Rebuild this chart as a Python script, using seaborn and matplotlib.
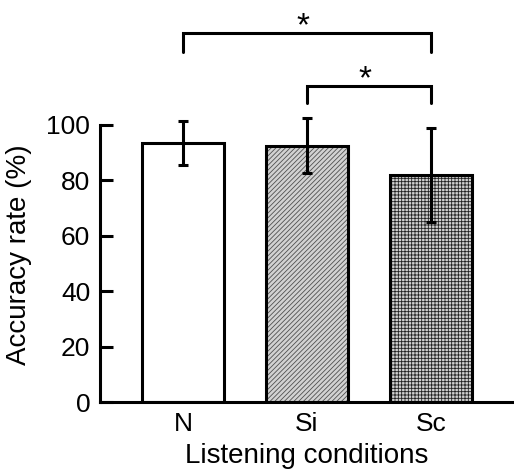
import matplotlib
matplotlib.use("Agg")
import matplotlib.pyplot as plt
import seaborn as sns
import pandas as pd

conditions = ["N", "Si", "Sc"]
accuracy = [93.5, 92.5, 82.0]
errors = [8.0, 10.0, 17.0]
# significance pairs (index a, index b, bracket top, leg bottom)
sig_pairs = [(0, 2, 133.2, 126.4), (1, 2, 114.1, 108.0)]
yticks = [0, 20, 40, 60, 80, 100]

sns.set_theme(style="ticks")
plt.rcParams['font.family'] = ['Liberation Sans', 'DejaVu Sans']
plt.rcParams['hatch.linewidth'] = 0.6
for k in ["text.color", "axes.labelcolor", "xtick.color", "ytick.color", "axes.edgecolor"]:
    plt.rcParams[k] = "black"

df = pd.DataFrame({"cond": conditions, "acc": accuracy})

fig = plt.figure(figsize=(5.14, 4.71), dpi=100)
ax = fig.add_axes([100/514, 69/471, 414/514, 402/471])

sns.barplot(data=df, x="cond", y="acc", order=conditions, errorbar=None,
            width=0.66, ax=ax, color="white", saturation=1)

faces = ["white", "#d2d2d2", "#d0d0d0"]
hatches = [None, "///////", "+++++"]
hcolors = ["black", "#505050", "#222222"]
for patch, fc, h, hc in zip(ax.patches, faces, hatches, hcolors):
    patch.set_facecolor(fc)
    patch.set_edgecolor("black")
    patch.set_linewidth(2.2)
    if h:
        patch.set_hatch(h)
        patch._hatch_color = matplotlib.colors.to_rgba(hc)

ax.errorbar(range(len(conditions)), accuracy, yerr=errors, fmt="none",
            ecolor="black", elinewidth=2.2, capsize=3.5, capthick=2.2, zorder=5)

for a, b, top, leg in sig_pairs:
    ax.plot([a, a, b, b], [leg, top, top, leg], color="black", lw=2.2,
            clip_on=False, solid_joinstyle="miter")
    ax.text((a + b) / 2 - 0.03, top - 3.5, "*", ha="center", va="bottom",
            fontsize=24, color="black")

ax.set_xlim(-0.67, 2.67)
ax.set_ylim(0, 145)
ax.set_yticks(yticks)
ax.spines["left"].set_bounds(0, 100)
ax.spines["top"].set_visible(False)
ax.spines["right"].set_visible(False)
ax.spines["left"].set_linewidth(2.2)
ax.spines["bottom"].set_linewidth(2.2)
ax.tick_params(axis="y", direction="in", length=9, width=2.2, labelsize=19, pad=7,
               colors="black")
ax.tick_params(axis="x", length=0, labelsize=19, pad=7, colors="black")
ax.set_xlabel("Listening conditions", fontsize=20, labelpad=5, color="black")
ax.set_ylabel("Accuracy rate (%)", fontsize=20, color="black")
ax.yaxis.set_label_coords(-0.165, 0.366)

fig.savefig("out.png", dpi=100)
